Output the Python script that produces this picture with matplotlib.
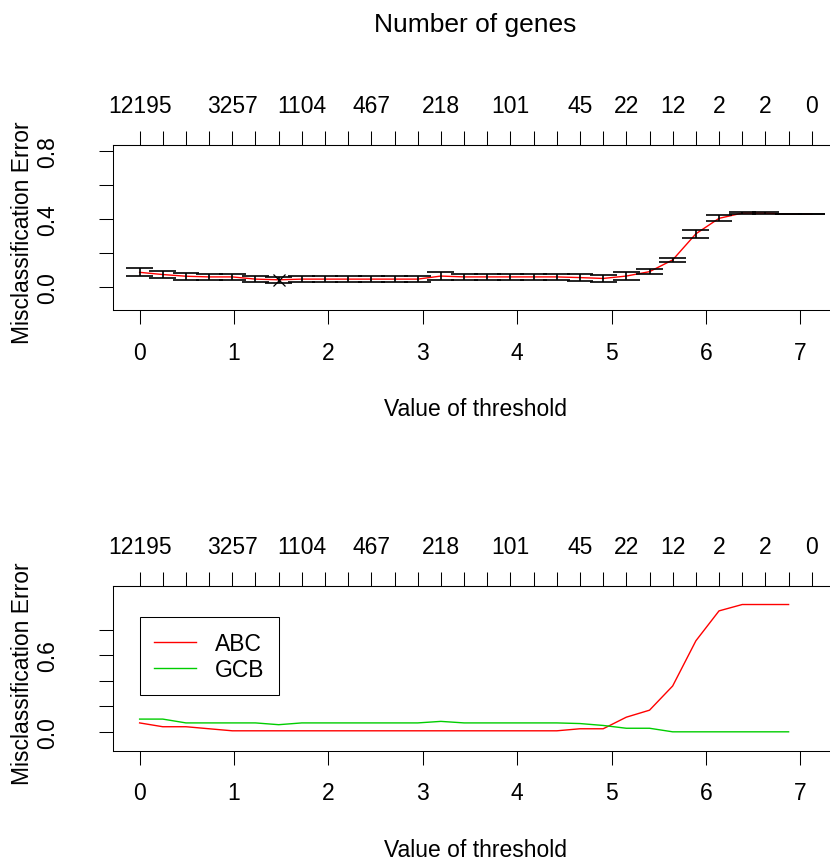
import matplotlib
matplotlib.use("Agg")

import numpy as np
import matplotlib.pyplot as plt

# ================= DATA =================
thresholds = [0.000, 0.245, 0.491, 0.736, 0.982, 1.227, 1.473, 1.718, 1.964, 2.209,
              2.455, 2.700, 2.946, 3.191, 3.437, 3.682, 3.928, 4.173, 4.419, 4.664,
              4.910, 5.155, 5.401, 5.646, 5.892, 6.137, 6.383, 6.628, 6.874, 7.119]

# number of genes at each threshold (R drops the labels that would overlap)
gene_labels = ["12195", "", "", "", "3257", "", "", "1104", "", "",
               "467", "", "", "218", "", "", "101", "", "", "45",
               "", "22", "", "12", "", "2", "", "2", "", "0"]

overall_err = [0.086, 0.073, 0.063, 0.059, 0.059, 0.046, 0.042, 0.046, 0.046, 0.046,
               0.046, 0.046, 0.046, 0.064, 0.059, 0.059, 0.059, 0.059, 0.059, 0.055,
               0.050, 0.064, 0.090, 0.159, 0.313, 0.404, 0.435, 0.435, 0.429, 0.429]

overall_se = [0.023, 0.020, 0.020, 0.018, 0.018, 0.016, 0.016, 0.017, 0.017, 0.017,
              0.017, 0.017, 0.017, 0.021, 0.020, 0.020, 0.020, 0.020, 0.020, 0.020,
              0.020, 0.021, 0.015, 0.012, 0.022, 0.017, 0.006, 0.006, 0.000, 0.000]

abc_err = [0.070, 0.040, 0.040, 0.024, 0.008, 0.008, 0.008, 0.008, 0.008, 0.008,
           0.008, 0.008, 0.008, 0.008, 0.008, 0.008, 0.008, 0.008, 0.008, 0.024,
           0.024, 0.115, 0.170, 0.360, 0.715, 0.950, 1.000, 1.000, 1.000, np.nan]

gcb_err = [0.100, 0.100, 0.070, 0.070, 0.070, 0.070, 0.056, 0.070, 0.070, 0.070,
           0.070, 0.070, 0.070, 0.082, 0.070, 0.070, 0.070, 0.070, 0.070, 0.065,
           0.050, 0.028, 0.028, 0.000, 0.000, 0.000, 0.000, 0.000, 0.000, np.nan]

class_names = ["ABC", "GCB"]
class_colors = ["#FF0000", "#00CD00"]

# ================= STYLE =================
FS = 16.5
plt.rcParams["font.family"] = ["Liberation Sans", "DejaVu Sans"]
plt.rcParams["font.size"] = FS
plt.rcParams["axes.linewidth"] = 0.75

LEFT, WIDTH, HEIGHT = 0.1358, 0.8746, 0.1914
XLIM = (-0.285, 7.404)


def style_axes(ax, yticks, ylabels, ylim):
    x = np.asarray(thresholds)
    ax.set_xlim(*XLIM)
    ax.set_ylim(*ylim)
    ax.set_xticks(range(8))
    ax.set_yticks(yticks, labels=ylabels)
    ax.tick_params(axis="x", direction="out", length=10, width=0.75, pad=12, labelsize=FS)
    ax.tick_params(axis="y", direction="out", length=10, width=0.75, pad=37, labelsize=FS)
    for lab in ax.get_yticklabels():
        lab.set_rotation(90)
        lab.set_va("center")
        lab.set_ha("center")
    ax.set_xlabel("Value of threshold", fontsize=FS, labelpad=24)
    ax.set_ylabel("Misclassification Error", fontsize=FS, va="center")
    ax.yaxis.set_label_coords(-0.1238, 0.473)

    top = ax.secondary_xaxis("top")
    top.set_xticks(x, labels=gene_labels)
    top.tick_params(direction="out", length=10, width=0.75, pad=10, labelsize=FS)
    top.spines["top"].set_linewidth(0.75)
    return top


def main():
    fig = plt.figure(figsize=(8.3, 8.62), dpi=100)
    x = np.asarray(thresholds)

    # ===== top panel: overall CV error with error bars =====
    ax1 = fig.add_axes([LEFT, 0.6392, WIDTH, HEIGHT])
    err = np.asarray(overall_err)
    se = np.asarray(overall_se)
    ax1.plot(x, err, color="#FF0000", lw=1.0, zorder=2)
    o = err == err.min()
    ax1.plot(x[o], err[o], marker="x", ms=8, mew=0.9, color="black", ls="none", zorder=3)
    barw = 0.02 * (x.max() - x.min())
    ax1.vlines(x, err - se, err + se, color="black", lw=1.2, zorder=3)
    ax1.hlines(err + se, x - barw, x + barw, color="black", lw=1.2, zorder=3)
    ax1.hlines(err - se, x - barw, x + barw, color="black", lw=1.2, zorder=3)
    style_axes(ax1, [0, 0.2, 0.4, 0.6, 0.8], ["0.0", "", "0.4", "", "0.8"], (-0.136, 0.836))
    ax1.text(0.5, 1.69, "Number of genes", transform=ax1.transAxes,
             ha="center", va="baseline", fontsize=19)

    # ===== bottom panel: error per class =====
    ax2 = fig.add_axes([LEFT, 0.128, WIDTH, HEIGHT])
    for name, vals, col in zip(class_names, [abc_err, gcb_err], class_colors):
        ax2.plot(x, vals, color=col, lw=1.0, label=name)
    style_axes(ax2, [0, 0.2, 0.4, 0.6, 0.8], ["0.0", "", "", "0.6", ""], (-0.148, 1.148))
    leg = ax2.legend(loc="upper left", bbox_to_anchor=(0, 0.9), bbox_transform=ax2.transData,
                     borderaxespad=0, borderpad=0.64, labelspacing=0.12, handlelength=1.8,
                     handletextpad=0.85, fancybox=False, framealpha=1, fontsize=FS)
    leg.get_frame().set_edgecolor("black")
    leg.get_frame().set_linewidth(0.75)

    fig.savefig("out.png", dpi=100)
    plt.close(fig)


if __name__ == "__main__":
    main()
